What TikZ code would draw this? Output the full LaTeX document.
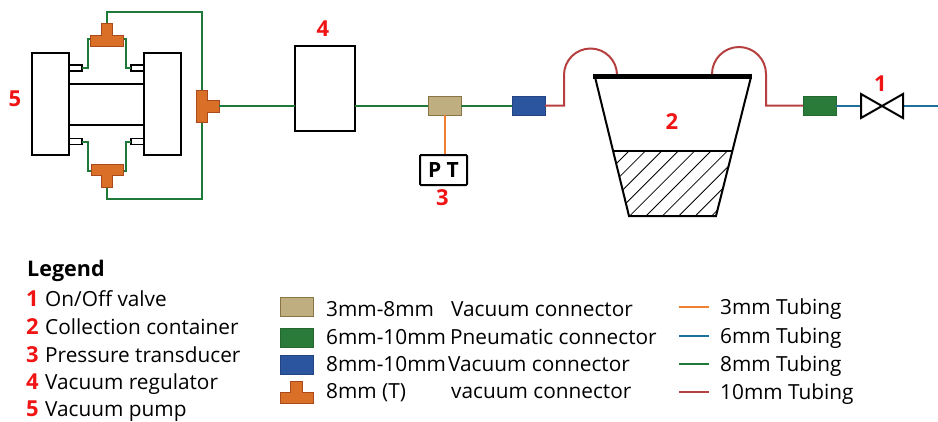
\documentclass[tikz,border=0pt]{standalone}
\usepackage{fontspec}
\setmainfont{Open Sans}
\definecolor{teeorange}{HTML}{DA7027}
\definecolor{teeedge}{HTML}{A94A1A}
\definecolor{tanfill}{HTML}{BFAE80}
\definecolor{tanedge}{HTML}{8A7443}
\definecolor{greenfill}{HTML}{2A7B39}
\definecolor{bluefill}{HTML}{2C55A0}
\definecolor{tubegreen}{HTML}{1F7A3A}
\definecolor{tubered}{HTML}{B5403F}
\definecolor{tubeblue}{HTML}{1F6F99}
\definecolor{tubeorange}{HTML}{F08030}
\definecolor{numred}{HTML}{F01414}
\tikzset{
  block/.style={draw,line width=2pt,fill=white,inner sep=0pt,outer sep=0pt},
  portbox/.style={draw,line width=1.4pt,fill=white,inner sep=0pt,outer sep=0pt,minimum width=13pt,minimum height=6pt},
  connbox/.style={inner sep=0pt,outer sep=0pt,minimum width=33pt,minimum height=19pt,line width=0.8pt},
  tanconn/.style={connbox,draw=tanedge,fill=tanfill},
  greenconn/.style={connbox,draw=greenfill!85!black,fill=greenfill},
  blueconn/.style={connbox,draw=bluefill!80!black,fill=bluefill},
  tee/.style={draw=teeedge,fill=teeorange,line width=0.8pt},
  tube3/.style={draw=tubeorange,line width=2pt},
  tube6/.style={draw=tubeblue,line width=2pt},
  tube8/.style={draw=tubegreen,line width=2pt},
  tube10/.style={draw=tubered,line width=2pt},
  num/.style={text=numred,font=\fontsize{22}{24}\selectfont\bfseries,inner sep=0pt},
  legtext/.style={anchor=base west,inner sep=0pt,font=\fontsize{20.8}{24}\selectfont},
  legnum/.style={legtext,text=numred,font=\fontsize{22}{24}\selectfont\bfseries}
}
\begin{document}
\begin{tikzpicture}[x=1pt,y=-1pt]
\useasboundingbox (0,0) rectangle (938,421);

% pump
\node[block,minimum width=37pt,minimum height=102pt] (pumpl) at (50.5,104) {};
\node[block,minimum width=37pt,minimum height=102pt] (pumpr) at (162.5,104) {};
\node[block,minimum width=75pt,minimum height=41pt] (pumpc) at (106.5,104.5) {};
\node[portbox] (portlt) at (75.5,68) {};
\node[portbox] (portrt) at (137.5,68) {};
\node[portbox] (portlb) at (75.5,141.5) {};
\node[portbox] (portrb) at (137.5,141.5) {};

% T connectors
\coordinate (teetop) at (106.5,23);
\coordinate (teetopl) at (90,39);
\coordinate (teetopr) at (123,39);
\coordinate (teebot) at (107,187);
\coordinate (teebotl) at (91,171);
\coordinate (teebotr) at (123,171);
\coordinate (teeup) at (201.5,90);
\coordinate (teedown) at (201.5,122);
\coordinate (teeout) at (219,106);

\draw[tube8] (teetop) -- (106.5,12) -| (teeup);
\draw[tube8] (teebot) -- (107,199) -| (teedown);
\draw[tube8] (teetopl) -- (88,39) |- (portlt.east);
\draw[tube8] (teetopr) -- (126,39) |- (portrt.west);
\draw[tube8] (teebotl) -- (88,171) |- (portlb.east);
\draw[tube8] (teebotr) -- (126,171) |- (portrb.west);

\draw[tee] (101,23) -- (112,23) -- (112,35) -- (123,35) -- (123,46) -- (90,46) -- (90,35) -- (101,35) -- cycle;
\draw[tee] (91,164) -- (123,164) -- (123,175) -- (112.5,175) -- (112.5,187) -- (101.5,187) -- (101.5,175) -- (91,175) -- cycle;
\draw[tee] (196,90) -- (207,90) -- (207,100) -- (219,100) -- (219,112) -- (207,112) -- (207,122) -- (196,122) -- cycle;

% main line
\node[block,minimum width=60pt,minimum height=85pt] (regulator) at (325,88.5) {};
\node[tanconn] (tanc) at (444.5,105.5) {};
\node[blueconn] (bluec) at (528.5,105.5) {};
\node[greenconn] (greenc) at (819.5,105.5) {};
\node[draw,line width=2pt,rounded corners=1pt,inner sep=0pt,minimum width=47pt,minimum height=30pt,font=\fontsize{21}{24}\selectfont\bfseries] (pt) at (443.5,170) {P T};

\draw[tube8] (teeout) -- (regulator.west |- teeout);
\draw[tube8] (regulator.east |- tanc.west) -- (tanc.west);
\draw[tube8] (tanc.east) -- (bluec.west);
\draw[tube3] (tanc.south) -- (pt.north -| tanc.south);

\draw[tube10] (bluec.east) -- (564,105.5) -- (564,75) arc (180:360:26.5);
\draw[tube10] (712,74) arc (180:360:27) -- (766,105.5) -- (greenc.west);

\coordinate (valvel) at (861,105.5);
\coordinate (valver) at (903,105.5);
\coordinate (lineend) at (938,105.5);
\draw[tube6] (greenc.east) -- (valvel);
\draw[tube6] (valver) -- (lineend);
\draw[line width=2pt,fill=white] (861,94) -- (903,118) -- (903,94) -- (861,118) -- cycle;

% container
\begin{scope}
\clip (613,151) -- (732,151) -- (716,216) -- (629,216) -- cycle;
\foreach \k in {0,...,10}
  \draw[line width=0.8pt] ({629+16.4*\k},151) -- ({629+16.4*\k-80},231);
\end{scope}
\draw[line width=2pt] (595,77) -- (629,216) -- (716,216) -- (751,77);
\draw[line width=2pt] (613,151) -- (732,151);
\draw[line width=5.5pt] (593,76.5) -- (752,76.5);

% labels
\node[num] (lab1) at (880.5,84) {1};
\node[num] (lab2) at (672,122) {2};
\node[num] (lab3) at (442.5,198) {3};
\node[num] (lab4) at (323,29) {4};
\node[num] (lab5) at (15,99) {5};

% legend
\node[legtext,font=\fontsize{21.5}{24}\selectfont\bfseries] (legend) at (27,276.5) {Legend};
\foreach \n/\t/\y in {1/{On/Off valve}/306,2/Collection container/334,3/Pressure transducer/362,4/Vacuum regulator/389,5/Vacuum pump/416}{
  \node[legnum] at (26,\y) {\n};
  \node[legtext] at (45,\y) {\t};
}

\node[tanconn] (keytan) at (296.5,307) {};
\node[greenconn] (keygreen) at (296.5,337.5) {};
\node[blueconn] (keyblue) at (296.5,364.5) {};
\draw[tee] (290,381) -- (302,381) -- (302,392) -- (313,392) -- (313,403) -- (280,403) -- (280,392) -- (290,392) -- cycle;

\foreach \s/\t/\y/\z in {3mm-8mm/Vacuum connector/316/451,6mm-10mm/Pneumatic connector/344/450,8mm-10mm/Vacuum connector/371/448}{
  \node[legtext] at (326,\y) {\s};
  \node[legtext] at (\z,\y) {\t};
}
\node[legtext] at (326,398) {8mm (T)};
\node[legtext] at (451,398) {vacuum connector};

\foreach \c/\t/\y in {tube3/3mm Tubing/307,tube6/6mm Tubing/336,tube8/8mm Tubing/364,tube10/10mm Tubing/392}{
  \coordinate (keya) at (679,\y);
  \coordinate (keyb) at (709,\y);
  \draw[\c] (keya) -- (keyb);
  \node[legtext] at (720,\y+7) {\t};
}
\end{tikzpicture}
\end{document}
